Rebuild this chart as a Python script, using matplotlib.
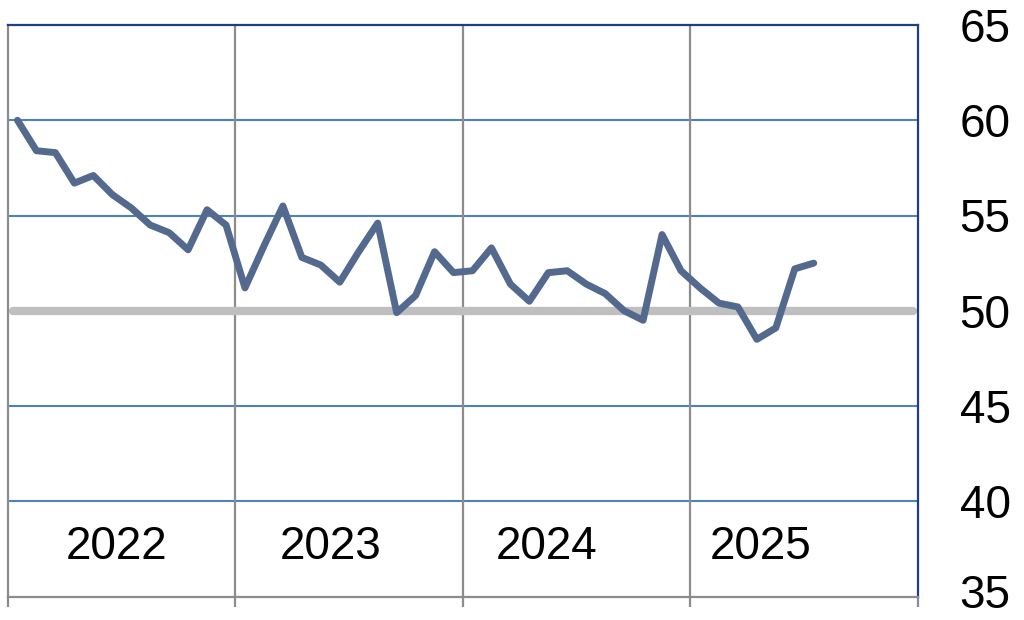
import numpy as np
import matplotlib
matplotlib.use("Agg")
import matplotlib.pyplot as plt
import matplotlib.transforms as mtransforms

plt.rcParams['font.family'] = ['Liberation Sans', 'DejaVu Sans']

# -------------------- Data (monthly, Jan 2022 - Jul 2025) --------------------
values = [
    60.0, 58.4, 58.3, 56.7, 57.1, 56.1, 55.4, 54.5, 54.1, 53.2, 55.3, 54.5,   # 2022
    51.2, 53.4, 55.5, 52.8, 52.4, 51.5, 53.1, 54.6, 49.9, 50.8, 53.1, 52.0,   # 2023
    52.1, 53.3, 51.4, 50.5, 52.0, 52.1, 51.4, 50.9, 50.0, 49.5, 54.0, 52.1,   # 2024
    51.2, 50.4, 50.2, 48.5, 49.1, 52.2, 52.5,                                 # 2025
]
years = ['2022', '2023', '2024', '2025']
year_label_pos = [5.2, 16.5, 27.9, 39.2]   # month index where each label sits
y_ticks = [35, 40, 45, 50, 55, 60, 65]
threshold = 50

x = np.arange(len(values))

fig = plt.figure(figsize=(10.24, 6.2), dpi=100)
ax = fig.add_axes([8 / 1024, 23.5 / 620, 910 / 1024, 571.5 / 620])

# horizontal grid lines (blue)
for v in y_ticks[1:-1]:
    ax.axhline(v, color='#4F81BD', lw=1.5, zorder=1)

# year separators (gray)
seps = [-0.5 + 12 * i for i in range(len(years) + 1)]
for s in seps[1:-1]:
    ax.axvline(s, color='#8C8C8C', lw=1.6, zorder=1)

# 50 threshold line
ax.axhline(threshold, xmin=0.005, xmax=0.995, color='#BFBFBF', lw=6,
           solid_capstyle='round', zorder=2)

# main series
ax.plot(x, values, color='#536A8E', lw=5, solid_joinstyle='round',
        solid_capstyle='round', zorder=3)

# year labels inside the plot
for pos, yr in zip(year_label_pos, years):
    ax.text(pos, 37.6, yr, ha='center', va='center', fontsize=33)

ax.set_xlim(-0.5, 47.5)
ax.set_ylim(35, 65)

ax.yaxis.tick_right()
ax.set_yticks(y_ticks)
ax.tick_params(axis='y', length=0, pad=30, labelsize=33)

# lift the bottom label a touch so it stays inside the image
lbl = ax.get_yticklabels()[0]
lbl.set_transform(lbl.get_transform() +
                  mtransforms.ScaledTranslation(0, 4 / 72, fig.dpi_scale_trans))

ax.set_xticks(seps)
ax.set_xticklabels([])
ax.tick_params(axis='x', length=7, width=1.6, color='#8C8C8C', direction='out')

for side in ['top', 'right']:
    ax.spines[side].set_color('#1F3F7F')
    ax.spines[side].set_linewidth(1.6)
for side in ['left', 'bottom']:
    ax.spines[side].set_color('#8C8C8C')
    ax.spines[side].set_linewidth(1.6)

fig.savefig('out.png', dpi=100)
